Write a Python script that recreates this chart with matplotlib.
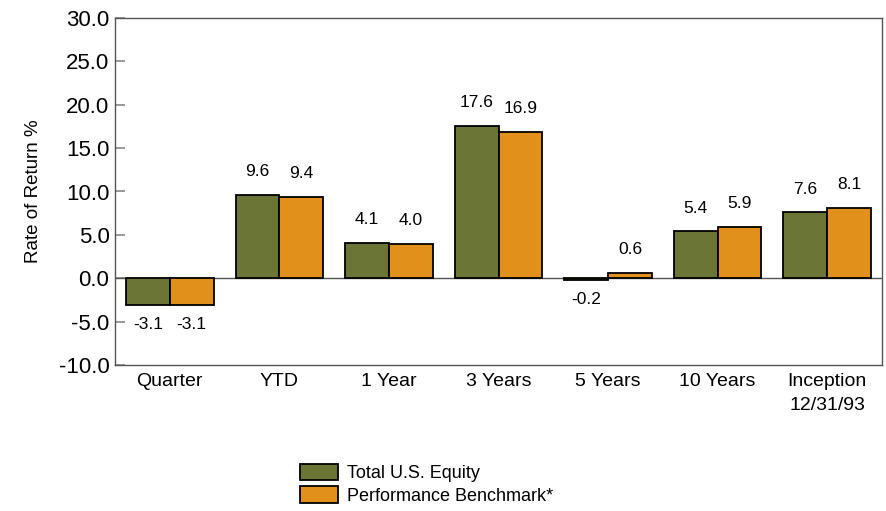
import matplotlib.pyplot as plt
import numpy as np

plt.rcParams['font.family'] = ['Liberation Sans', 'DejaVu Sans']

categories = ['Quarter', 'YTD', '1 Year', '3 Years', '5 Years', '10 Years', 'Inception\n12/31/93']
equity = [-3.1, 9.6, 4.1, 17.6, -0.2, 5.4, 7.6]
benchmark = [-3.1, 9.4, 4.0, 16.9, 0.6, 5.9, 8.1]
yticks = [-10, -5, 0, 5, 10, 15, 20, 25, 30]

green = '#6B7535'
orange = '#E2901C'
grey = '#555555'

fig = plt.figure(figsize=(8.86, 5.11), dpi=100)
ax = fig.add_axes([115 / 886, 1 - 365 / 511, 767 / 886, 347 / 511])

x = np.arange(len(categories))
w = 0.4
b1 = ax.bar(x - w / 2, equity, w, color=green, edgecolor='black', linewidth=1.3,
            label='Total U.S. Equity', zorder=3)
b2 = ax.bar(x + w / 2, benchmark, w, color=orange, edgecolor='black', linewidth=1.3,
            label='Performance Benchmark*', zorder=3)

for bars, vals in ((b1, equity), (b2, benchmark)):
    for bar, v in zip(bars, vals):
        cx = bar.get_x() + bar.get_width() / 2
        if v >= 0:
            ax.text(cx, v + 1.8, f'{v:.1f}', ha='center', va='bottom', fontsize=12.5)
        else:
            ax.text(cx, v - 1.4, f'{v:.1f}', ha='center', va='top', fontsize=12.5)

ax.axhline(0, color=grey, linewidth=1, zorder=2)
ax.set_xlim(-0.5, len(categories) - 0.5)
ax.set_ylim(-10, 30)
ax.set_yticks(yticks)
ax.set_yticklabels([f'{t:.1f}' for t in yticks], fontsize=16)
ax.set_xticks(x)
ax.set_xticklabels(categories, fontsize=14, linespacing=1.5)
ax.tick_params(axis='x', length=0, pad=6)
ax.tick_params(axis='y', direction='in', length=7, color='#888888', width=1.2, pad=4)
for s in ax.spines.values():
    s.set_color(grey)
    s.set_linewidth(1)
ax.set_ylabel('Rate of Return %', fontsize=13.5, labelpad=12)

fig.legend(handles=[b1, b2], loc='upper left', bbox_to_anchor=(287 / 886, 1 - 451 / 511),
           frameon=False, fontsize=13, handlelength=2.1, handleheight=1.05,
           handletextpad=0.5, labelspacing=0.22, borderpad=0.2)

fig.savefig('out.png', dpi=100)
